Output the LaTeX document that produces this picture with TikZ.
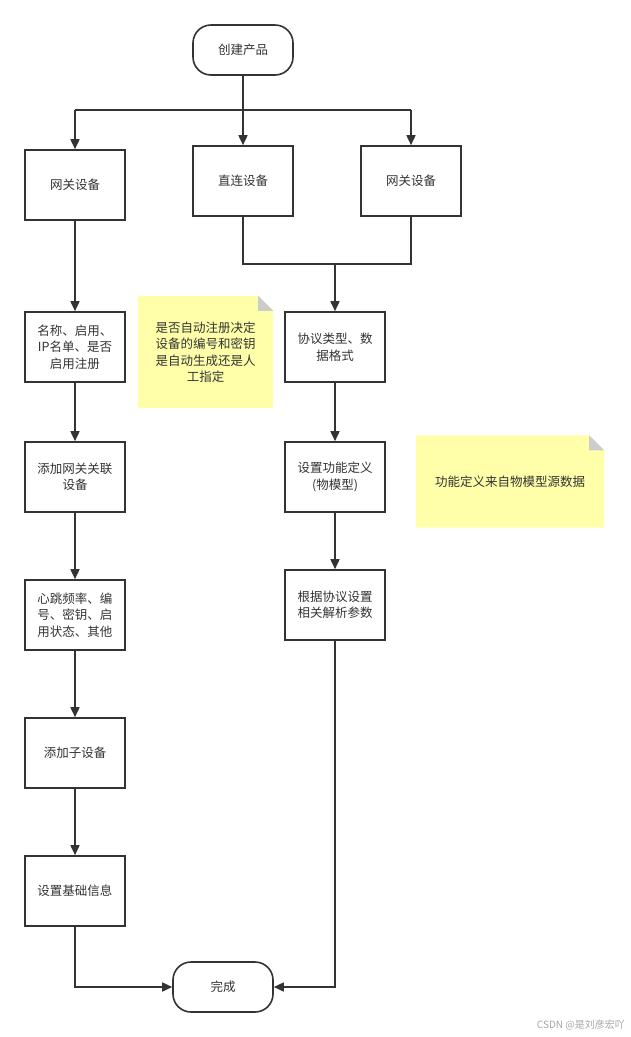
\documentclass[tikz,border=0pt]{standalone}
\usepackage{fontspec}
\setmainfont{Noto Sans CJK SC}
\usetikzlibrary{arrows.meta}
\definecolor{linec}{HTML}{333333}
\definecolor{txtc}{HTML}{333333}
\definecolor{notefill}{HTML}{FFFFAA}
\definecolor{foldc}{HTML}{CCCCCC}
\tikzset{
  box/.style={draw=linec, line width=1.6pt, minimum width=100pt, minimum height=70pt,
    align=center, text=txtc, inner sep=2pt, font=\fontsize{12.5}{16.5}\selectfont},
  term/.style={box, minimum height=50pt, rounded corners=18pt},
  conn/.style={draw=linec, line width=1.6pt},
  arr/.style={conn, -{Triangle[length=10pt,width=9pt]}},
  notetext/.style={align=center, text=txtc, font=\fontsize{12.5}{16.5}\selectfont, inner sep=0pt},
}
\begin{document}
\begin{tikzpicture}[x=1pt,y=-1pt]
\path[use as bounding box, fill=white] (0,0) rectangle (630,1037);

% notes
\node[minimum width=135pt, minimum height=112pt, inner sep=0pt] (n1) at (205.5,352) {};
\fill[notefill] (n1.north west) -- ([xshift=-15pt]n1.north east) -- ([yshift=-15pt]n1.north east) -- (n1.south east) -- (n1.south west) -- cycle;
\fill[foldc] ([xshift=-15pt]n1.north east) -- ([yshift=-15pt]n1.north east) -- ([xshift=-15pt,yshift=-15pt]n1.north east) -- cycle;
\node[notetext] (n1t) at (n1) {是否自动注册决定\\设备的编号和密钥\\是自动生成还是人\\工指定};

\node[minimum width=188pt, minimum height=92pt, inner sep=0pt] (n2) at (510,481.5) {};
\fill[notefill] (n2.north west) -- ([xshift=-15pt]n2.north east) -- ([yshift=-15pt]n2.north east) -- (n2.south east) -- (n2.south west) -- cycle;
\fill[foldc] ([xshift=-15pt]n2.north east) -- ([yshift=-15pt]n2.north east) -- ([xshift=-15pt,yshift=-15pt]n2.north east) -- cycle;
\node[notetext] (n2t) at (n2) {功能定义来自物模型源数据};

% nodes
\node[term] (start) at (243,50) {创建产品};
\node[box] (gw1) at (75,185) {网关设备};
\node[box] (dc) at (243,181) {直连设备};
\node[box] (gw2) at (411,181) {网关设备};
\node[box] (name) at (75,347) {名称、启用、\\IP名单、是否\\启用注册};
\node[box] (addgw) at (75,477) {添加网关关联\\设备};
\node[box] (hb) at (75,615) {心跳频率、编\\号、密钥、启\\用状态、其他};
\node[box] (sub) at (75,753) {添加子设备};
\node[box] (base) at (75,891) {设置基础信息};
\node[box] (proto) at (335,347) {协议类型、数\\据格式};
\node[box] (func) at (335,477) {设置功能定义\\(物模型)};
\node[box] (param) at (335,605) {根据协议设置\\相关解析参数};
\node[term] (done) at (223,987) {完成};

\coordinate (bar) at (0,110);
\coordinate (bar2) at (0,264);

% connectors
\draw[conn] (start.south) -- (start.south |- bar);
\draw[conn] (gw1.north |- bar) -- (gw2.north |- bar);
\draw[arr] (gw1.north |- bar) -- (gw1.north);
\draw[arr] (dc.north |- bar) -- (dc.north);
\draw[arr] (gw2.north |- bar) -- (gw2.north);

\draw[conn] (dc.south) -- (dc.south |- bar2) -- (gw2.south |- bar2) -- (gw2.south);
\draw[arr] (proto.north |- bar2) -- (proto.north);
\draw[arr] (proto) -- (func);
\draw[arr] (func) -- (param);
\draw[arr] (param.south) |- (done.east);

\draw[arr] (gw1) -- (name);
\draw[arr] (name) -- (addgw);
\draw[arr] (addgw) -- (hb);
\draw[arr] (hb) -- (sub);
\draw[arr] (sub) -- (base);
\draw[arr] (base.south) |- (done.west);

\node[text=black!35, font=\fontsize{10}{11}\selectfont, anchor=east, inner sep=0pt] (wm) at (625,1025) {CSDN @是刘彦宏吖};
\end{tikzpicture}
\end{document}
